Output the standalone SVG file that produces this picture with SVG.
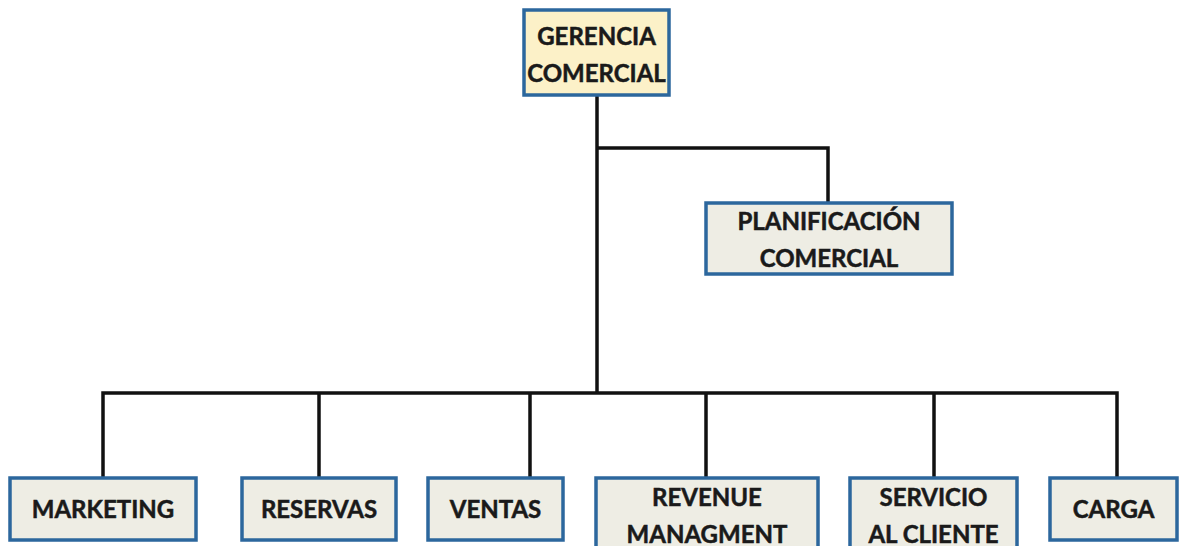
<svg xmlns="http://www.w3.org/2000/svg" width="1184" height="546" viewBox="0 0 1184 546">
  <style>
    .box { fill: #eeede4; stroke: #2c679d; stroke-width: 3.5; }
    .head { fill: #fcf1c8; }
    .lbl { font-family: Lato, "Open Sans", "Liberation Sans", sans-serif; font-weight: bold; font-size: 24px; fill: #1a1a1a; stroke: #1a1a1a; stroke-width: 0.5; text-anchor: middle; }
    .wire { fill: none; stroke: #111111; stroke-width: 3.5; stroke-linejoin: miter; }
  </style>
  <rect width="1184" height="546" fill="#ffffff"/>

  <g id="connectors">
    <path class="wire" d="M597 95 V393"/>
    <path class="wire" d="M597 148 H828 V203"/>
    <path class="wire" d="M103 478 V393 H1117 V478"/>
    <path class="wire" d="M319 393 V478"/>
    <path class="wire" d="M530 393 V478"/>
    <path class="wire" d="M706 393 V478"/>
    <path class="wire" d="M934 393 V478"/>
  </g>

  <g id="gerencia-comercial">
    <rect class="box head" x="524" y="10" width="145" height="85"/>
    <text class="lbl" x="596.5" y="45">GERENCIA</text>
    <text class="lbl" x="596.5" y="82">COMERCIAL</text>
  </g>

  <g id="planificacion-comercial">
    <rect class="box" x="706" y="203" width="246" height="71"/>
    <text class="lbl" x="829" y="230">PLANIFICACIÓN</text>
    <text class="lbl" x="829" y="267">COMERCIAL</text>
  </g>

  <g id="marketing">
    <rect class="box" x="10" y="478" width="186" height="62"/>
    <text class="lbl" x="103" y="518">MARKETING</text>
  </g>

  <g id="reservas">
    <rect class="box" x="242" y="478" width="154" height="62"/>
    <text class="lbl" x="319" y="518">RESERVAS</text>
  </g>

  <g id="ventas">
    <rect class="box" x="428" y="478" width="135" height="62"/>
    <text class="lbl" x="495.5" y="518">VENTAS</text>
  </g>

  <g id="revenue-managment">
    <rect class="box" x="596" y="478" width="222" height="74"/>
    <text class="lbl" x="707" y="506">REVENUE</text>
    <text class="lbl" x="707" y="543">MANAGMENT</text>
  </g>

  <g id="servicio-al-cliente">
    <rect class="box" x="850" y="478" width="167" height="74"/>
    <text class="lbl" x="933.5" y="506">SERVICIO</text>
    <text class="lbl" x="933.5" y="543">AL CLIENTE</text>
  </g>

  <g id="carga">
    <rect class="box" x="1050" y="478" width="127" height="62"/>
    <text class="lbl" x="1113.5" y="518">CARGA</text>
  </g>
</svg>
